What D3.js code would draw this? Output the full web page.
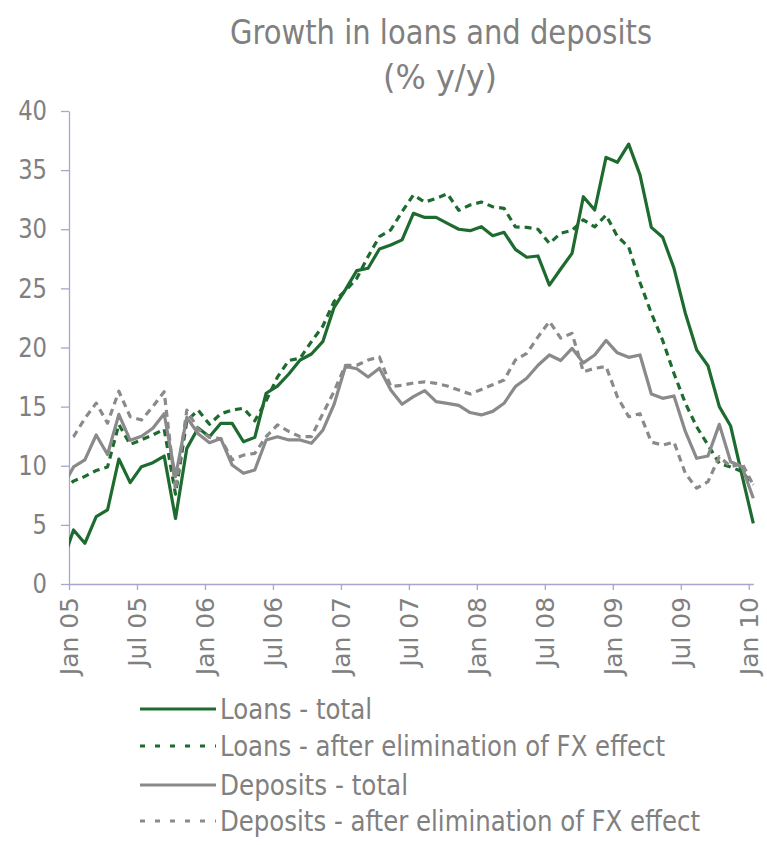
<!DOCTYPE html>
<meta charset="utf-8">
<style>

body {
  margin: 0;
  background: #fff;
}

text {
  font-family: "DejaVu Sans", sans-serif;
  fill: #808080;
}

.axis path,
.axis line {
  stroke: #a6a6cf;
  stroke-width: 1.3;
}

.line {
  fill: none;
  stroke-width: 3.2;
  stroke-linejoin: round;
}

</style>
<svg width="767" height="845"></svg>
<script src="https://cdn.jsdelivr.net/npm/d3@7"></script>
<script>

// months (Dec 04 sits just left of the axis and is clipped)
var months = ["Dec 04",
  "Jan 05","Feb 05","Mar 05","Apr 05","May 05","Jun 05","Jul 05","Aug 05","Sep 05","Oct 05","Nov 05","Dec 05",
  "Jan 06","Feb 06","Mar 06","Apr 06","May 06","Jun 06","Jul 06","Aug 06","Sep 06","Oct 06","Nov 06","Dec 06",
  "Jan 07","Feb 07","Mar 07","Apr 07","May 07","Jun 07","Jul 07","Aug 07","Sep 07","Oct 07","Nov 07","Dec 07",
  "Jan 08","Feb 08","Mar 08","Apr 08","May 08","Jun 08","Jul 08","Aug 08","Sep 08","Oct 08","Nov 08","Dec 08",
  "Jan 09","Feb 09","Mar 09","Apr 09","May 09","Jun 09","Jul 09","Aug 09","Sep 09","Oct 09","Nov 09","Dec 09",
  "Jan 10"];

var tickLabels = ["Jan 05","Jul 05","Jan 06","Jul 06","Jan 07","Jul 07","Jan 08","Jul 08","Jan 09","Jul 09","Jan 10"];
var yTicks = [0, 5, 10, 15, 20, 25, 30, 35, 40];

var loansTotal = [1.75,
  4.57, 3.44, 5.69, 6.26, 10.57, 8.57, 9.92, 10.26, 10.82, 5.55, 11.47, 13.2,
  12.46, 13.59, 13.59, 12.03, 12.4, 16.13, 16.74, 17.76, 18.94, 19.45, 20.49, 23.4,
  24.9, 26.5, 26.7, 28.33, 28.67, 29.1, 31.35, 31.0, 31.0, 30.5, 30.0, 29.88,
  30.22, 29.45, 29.74, 28.3, 27.63, 27.74, 25.28, 26.64, 27.96, 32.75, 31.63, 36.08,
  35.66, 37.2, 34.6, 30.16, 29.32, 26.7, 22.9, 19.8, 18.46, 15.0, 13.36, 9.2,
  5.13];

var loansFx = [7.95,
  8.7, 9.1, 9.6, 9.9, 13.5, 11.8, 12.2, 12.6, 13.1, 7.6, 13.8, 14.7,
  13.5, 14.4, 14.7, 14.86, 13.8, 15.5, 17.5, 18.9, 19.1, 20.5, 21.8, 23.9,
  24.8, 25.85, 27.7, 29.37, 29.94, 31.5, 32.9, 32.3, 32.6, 33.0, 31.6, 32.05,
  32.3, 31.9, 31.77, 30.2, 30.16, 30.0, 28.8, 29.66, 29.9, 30.8, 30.2, 31.2,
  29.4, 28.5, 25.5, 22.9, 20.6, 17.8, 15.3, 13.3, 11.75, 10.2, 9.9, 9.5,
  8.4];

var depositsTotal = [8.15,
  9.9, 10.5, 12.6, 10.95, 14.35, 12.15, 12.5, 13.17, 14.4, 9.07, 14.1, 12.7,
  11.95, 12.3, 10.06, 9.36, 9.64, 12.18, 12.46, 12.18, 12.18, 11.9, 13.0, 15.2,
  18.4, 18.2, 17.5, 18.24, 16.4, 15.2, 15.84, 16.35, 15.42, 15.28, 15.1, 14.5,
  14.3, 14.6, 15.28, 16.7, 17.4, 18.5, 19.37, 18.9, 19.93, 18.7, 19.37, 20.6,
  19.55, 19.17, 19.37, 16.07, 15.7, 15.9, 12.9, 10.63, 10.82, 13.5, 10.34, 9.92,
  7.25];

var depositsFx = [12.05,
  12.46, 14.0, 15.3, 13.6, 16.3, 14.15, 13.87, 15.0, 16.26, 7.95, 14.7, 13.1,
  12.4, 12.3, 10.5, 10.9, 11.05, 12.46, 13.45, 12.9, 12.46, 12.46, 14.4, 16.3,
  18.5, 18.5, 18.94, 19.2, 16.7, 16.8, 17.0, 17.1, 16.97, 16.74, 16.4, 16.07,
  16.45, 16.85, 17.25, 18.94, 19.5, 20.9, 22.2, 20.8, 21.2, 17.95, 18.24, 18.4,
  15.84, 14.15, 14.4, 12.0, 11.75, 12.0, 9.36, 8.1, 8.65, 10.77, 9.92, 10.2,
  8.37];

var seriesNames = ["Loans - total", "Loans - after elimination of FX effect",
                   "Deposits - total", "Deposits - after elimination of FX effect"];
var seriesValues = [loansTotal, loansFx, depositsTotal, depositsFx];
var seriesColors = ["#1e6b2f", "#1e6b2f", "#8a8a8a", "#8a8a8a"];
var seriesDashed = [false, true, false, true];

var svg = d3.select("svg"),
    plot = {left: 69, right: 753.3, top: 111, bottom: 584};

// squeeze text horizontally (reference font is narrower than DejaVu)
function squeeze(sel, k) {
  sel.each(function() {
    var w = this.getComputedTextLength();
    d3.select(this).attr("textLength", w * k).attr("lengthAdjust", "spacingAndGlyphs");
  });
}

var x = d3.scaleLinear().domain([1, 61.4]).range([plot.left, plot.right]),
    y = d3.scaleLinear().domain([0, 40]).range([plot.bottom, plot.top]);

// offset of each monthly point relative to its tick
var pointShift = 0.4;

svg.append("defs").append("clipPath")
    .attr("id", "clip")
  .append("rect")
    .attr("x", plot.left)
    .attr("y", 0)
    .attr("width", plot.right - plot.left + 2)
    .attr("height", plot.bottom + 10);

// title
var title = svg.append("g").attr("font-size", 33).attr("text-anchor", "middle");
title.append("text").attr("x", 441).attr("y", 44)
    .attr("textLength", 422).attr("lengthAdjust", "spacingAndGlyphs")
    .text("Growth in loans and deposits");
title.append("text").attr("x", 440).attr("y", 89)
    .attr("textLength", 114).attr("lengthAdjust", "spacingAndGlyphs")
    .text("(% y/y)");

// y axis
var yAxis = svg.append("g")
    .attr("class", "axis axis--y")
    .attr("transform", "translate(" + plot.left + ",0)")
    .call(d3.axisLeft(y).tickValues(yTicks).tickSize(8).tickSizeOuter(0).tickPadding(14));
yAxis.selectAll("text").attr("font-size", 27).style("font-family", "DejaVu Sans");
squeeze(yAxis.selectAll("text"), 0.84);

// x axis
var xAxis = svg.append("g")
    .attr("class", "axis axis--x")
    .attr("transform", "translate(0," + plot.bottom + ")")
    .call(d3.axisBottom(x)
      .tickValues(tickLabels.map(function(l) { return months.indexOf(l); }))
      .tickFormat(function(i) { return months[i]; })
      .tickSize(6).tickSizeOuter(0));
xAxis.selectAll("text")
    .attr("font-size", 24)
    .attr("transform", "rotate(-90)")
    .attr("x", -13)
    .attr("y", 0)
    .attr("dy", "0.36em")
    .style("text-anchor", "end");
squeeze(xAxis.selectAll("text"), 1.04);

// lines
var line = d3.line()
    .x(function(d, i) { return x(i + pointShift); })
    .y(function(d) { return y(d); });

svg.append("g")
    .attr("clip-path", "url(#clip)")
  .selectAll(".line")
  .data(seriesValues)
  .enter().append("path")
    .attr("class", "line")
    .attr("stroke", function(d, i) { return seriesColors[i]; })
    .attr("stroke-dasharray", function(d, i) { return seriesDashed[i] ? "7,5" : null; })
    .attr("d", line);

// legend
var legendRows = [709, 746, 785, 821],
    legendWidths = [152, 445, 188, 480];

var legend = svg.append("g").selectAll("g")
    .data(seriesNames)
  .enter().append("g")
    .attr("transform", function(d, i) { return "translate(0," + legendRows[i] + ")"; });

legend.append("line")
    .attr("x1", 140).attr("x2", 216)
    .attr("stroke-width", 3)
    .attr("stroke", function(d, i) { return seriesColors[i]; })
    .attr("stroke-dasharray", function(d, i) { return seriesDashed[i] ? "5,10" : null; });

legend.append("text")
    .attr("x", 220)
    .attr("dy", "0.36em")
    .attr("font-size", 29)
    .attr("textLength", function(d, i) { return legendWidths[i]; })
    .attr("lengthAdjust", "spacingAndGlyphs")
    .text(function(d) { return d; });

</script>
